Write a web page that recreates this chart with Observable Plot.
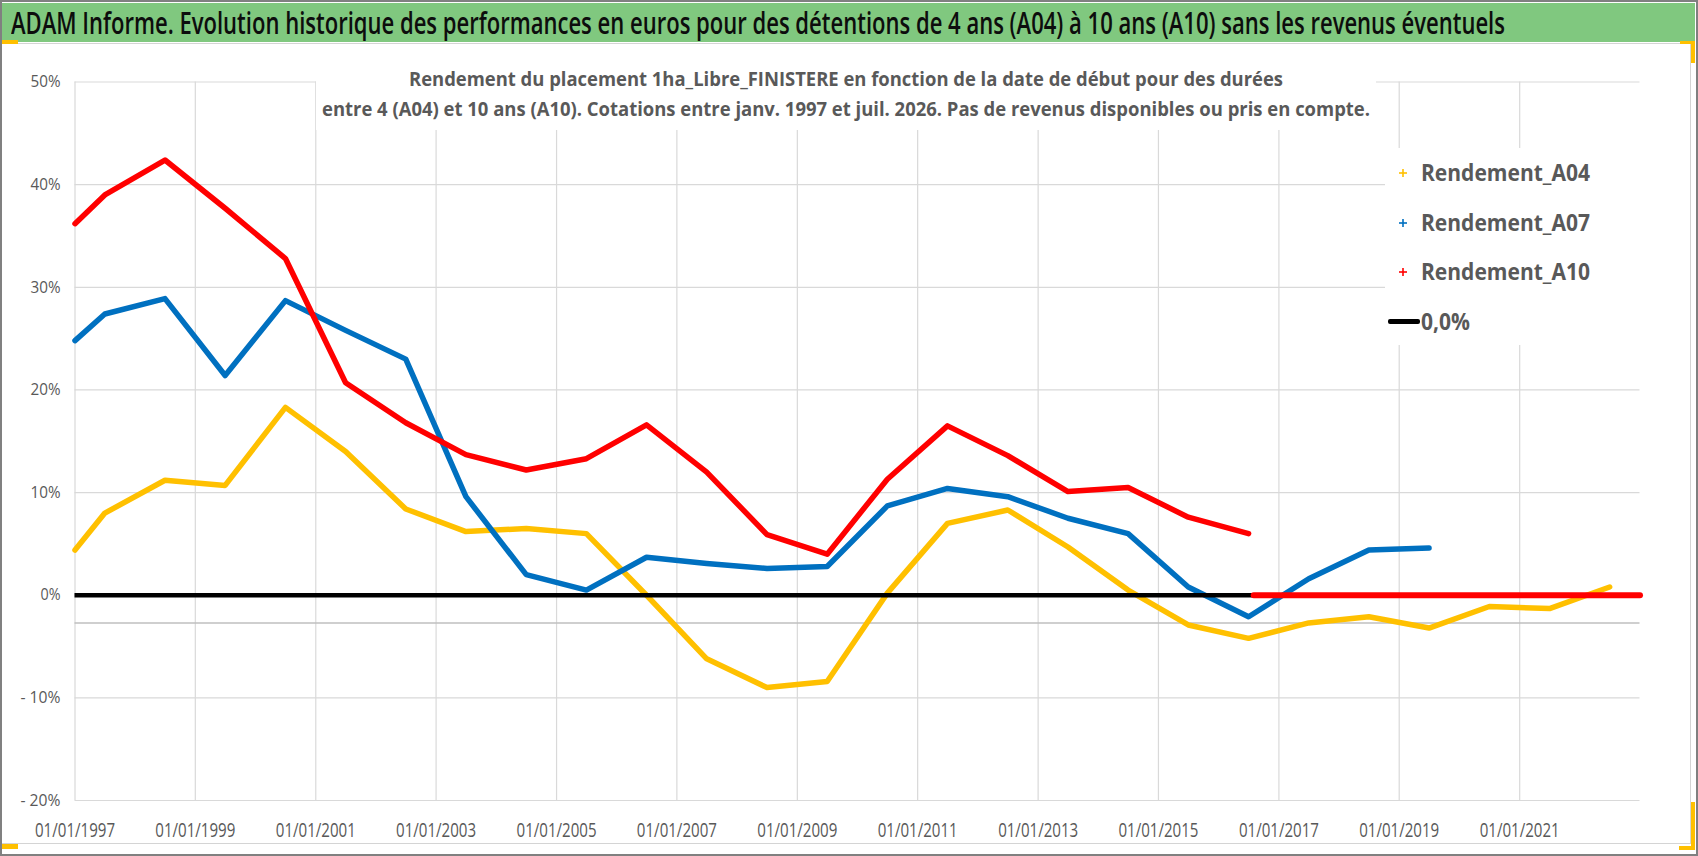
<!DOCTYPE html>
<html>
<head>
<meta charset="utf-8">
<script src="https://cdn.jsdelivr.net/npm/d3@7"></script>
<script src="https://cdn.jsdelivr.net/npm/@observablehq/plot@0.6"></script>
<style>
  html, body { margin: 0; padding: 0; background: #fff; }
  #wrap { position: relative; width: 1698px; height: 856px; overflow: hidden; background: #fff; font-family: "Open Sans", sans-serif; }
  #wrap > svg { position: absolute; left: 0; top: 0; }
  .abs { position: absolute; }
  .fit { display: inline-block; white-space: nowrap; transform-origin: 0 0; }
  #wrap svg [aria-label^="x-axis"] text { font-size: 20px !important; }
  #wrap svg [aria-label^="y-axis"] text { font-size: 16.5px !important; }
</style>
</head>
<body>
<div id="wrap"></div>
<script>
// ---------- data ----------
const dates = ["1997-01-01","1997-07-01","1998-07-01","1999-07-01","2000-07-01","2001-07-01","2002-07-01",
  "2003-07-01","2004-07-01","2005-07-01","2006-07-01","2007-07-01","2008-07-01","2009-07-01","2010-07-01",
  "2011-07-01","2012-07-01","2013-07-01","2014-07-01","2015-07-01","2016-07-01","2017-07-01","2018-07-01",
  "2019-07-01","2020-07-01","2021-07-01","2022-07-01"];
const rendementA04 = [4.4, 8.0, 11.2, 10.7, 18.3, 14.0, 8.4, 6.2, 6.5, 6.0, 0.0, -6.2, -9.0, -8.4, 0.2,
  7.0, 8.3, 4.7, 0.5, -2.9, -4.2, -2.7, -2.1, -3.2, -1.1, -1.3, 0.8];
const rendementA07 = [24.8, 27.4, 28.9, 21.4, 28.7, 25.8, 23.0, 9.6, 2.0, 0.5, 3.7, 3.1, 2.6, 2.8, 8.7,
  10.4, 9.6, 7.5, 6.0, 0.8, -2.1, 1.6, 4.4, 4.6, null, null, null];
const rendementA10 = [36.2, 39.0, 42.4, 37.7, 32.8, 20.7, 16.8, 13.7, 12.2, 13.3, 16.6, 12.0, 5.9, 4.0, 11.3,
  16.5, 13.6, 10.1, 10.5, 7.6, 6.0, null, null, null, null, null, null];
// A10 has no computable value after mid-2016: plotted as 0
const a10NoDataDates = ["2016-08-01", "2023-01-01"];
const a10NoDataValues = [0, 0];
const zeroLevel = 0;
const axisCrossLevel = -2.7;
const xDomain = ["1997-01-01", "2023-01-01"];
const xTicks = ["1997-01-01","1999-01-01","2001-01-01","2003-01-01","2005-01-01","2007-01-01",
  "2009-01-01","2011-01-01","2013-01-01","2015-01-01","2017-01-01","2019-01-01","2021-01-01"];
const yTicks = [-20, -10, 0, 10, 20, 30, 40, 50];
const seriesNames = ["Rendement_A04", "Rendement_A07", "Rendement_A10"];
const seriesColors = ["#FFC000", "#0070C0", "#FF0000"];
const zeroLabel = "0,0%";
const titleText = "ADAM Informe. Evolution historique des performances en euros pour des détentions de 4 ans (A04) à 10 ans (A10) sans les revenus éventuels";
const subtitleLines = [
  "Rendement du placement 1ha_Libre_FINISTERE en fonction de la date de début pour des durées",
  "entre 4 (A04) et 10 ans (A10). Cotations entre janv. 1997 et juil. 2026. Pas de revenus disponibles ou pris en compte."
];

// ---------- helpers ----------
const toDate = s => new Date(s + "T00:00:00Z");
const rows = (ds, vals) => ds.map((d, i) => ({date: toDate(d), value: vals[i]})).filter(r => r.value != null);
const yFmt = v => v < 0 ? "- " + Math.abs(v) + "%" : v + "%";

// ---------- plot ----------
const svg = Plot.plot({
  width: 1698,
  height: 856,
  marginLeft: 74.5,
  marginRight: 58.5,
  marginTop: 81.5,
  marginBottom: 56,
  style: {background: "transparent", color: "#595959", fontFamily: "Open Sans, sans-serif", fontSize: "16px"},
  x: {type: "utc", domain: xDomain.map(toDate), ticks: xTicks.map(toDate), tickFormat: d3.utcFormat("%d/%m/%Y"),
      tickSize: 0, tickPadding: 22, label: null},
  y: {domain: [-20, 50], ticks: yTicks, tickFormat: yFmt, tickSize: 0, tickPadding: 14.5, label: null},
  marks: [
    Plot.ruleY(yTicks, {stroke: "#d9d9d9", strokeWidth: 1.2}),
    Plot.ruleX(xTicks.map(toDate), {stroke: "#d9d9d9", strokeWidth: 1.2}),
    Plot.ruleY([axisCrossLevel], {stroke: "#bfbfbf", strokeWidth: 1.6}),
    Plot.line(rows(dates, rendementA04), {x: "date", y: "value", stroke: seriesColors[0], strokeWidth: 5.5}),
    Plot.line(rows(dates, rendementA07), {x: "date", y: "value", stroke: seriesColors[1], strokeWidth: 5.5}),
    Plot.ruleY([zeroLevel], {stroke: "#000", strokeWidth: 4.5}),
    Plot.line(rows(dates, rendementA10), {x: "date", y: "value", stroke: seriesColors[2], strokeWidth: 5.5}),
    Plot.line(rows(a10NoDataDates, a10NoDataValues), {x: "date", y: "value", stroke: seriesColors[2], strokeWidth: 6})
  ]
});
const wrap = document.getElementById("wrap");
wrap.appendChild(svg);

// condensed look for axis labels
svg.querySelectorAll('[aria-label^="x-axis"] text').forEach(t => {
  t.setAttribute("textLength", 80);
  t.setAttribute("lengthAdjust", "spacingAndGlyphs");
});
svg.querySelectorAll('[aria-label^="y-axis"] text').forEach(t => {
  const s = t.textContent;
  const w = s.startsWith("-") ? 40 : (s.length <= 2 ? 20 : 30);
  t.setAttribute("textLength", w);
  t.setAttribute("lengthAdjust", "spacingAndGlyphs");
});

// ---------- overlay elements ----------
function div(css, html) {
  const d = document.createElement("div");
  d.className = "abs";
  d.style.cssText += css;
  if (html != null) d.innerHTML = html;
  wrap.appendChild(d);
  return d;
}
// white boxes (subtitle, legend) hiding gridlines
div("left:316px;top:76px;width:1060px;height:54px;background:#fff;");
div("left:1385px;top:148px;width:256px;height:197px;background:#fff;");

// frames & title bar
div("left:0;top:43px;width:1691px;height:801px;box-sizing:border-box;border:1px solid #d4d4d4;");
div("left:2px;top:3px;width:1693px;height:39px;background:#80c87f;");
div("left:0;top:0;width:1698px;height:856px;box-sizing:border-box;border:2px solid #808080;");
// yellow selection corners
div("left:2px;top:40px;width:16px;height:4px;background:#FFC000;");
div("left:1680px;top:41px;width:15px;height:3px;background:#FFC000;");
div("left:1691px;top:41px;width:4px;height:22px;background:#FFC000;");
div("left:1691px;top:802px;width:4px;height:48px;background:#FFC000;");
div("left:1679px;top:846px;width:16px;height:4px;background:#FFC000;");
div("left:2px;top:844px;width:16px;height:5px;background:#FFC000;");

const fitters = [];
function textLine(text, left, baseline, fs, weight, color, width) {
  const d = div(`left:${left}px;top:${baseline - 0.888 * fs}px;font-size:${fs}px;line-height:${fs}px;font-weight:${weight};color:${color};`);
  const s = document.createElement("span");
  s.className = "fit";
  s.textContent = text;
  d.appendChild(s);
  if (width) fitters.push({el: s, width});
  return s;
}
// title
textLine(titleText, 11, 35, 30, 600, "#0d0d0d", 1494);
// subtitle
textLine(subtitleLines[0], 409, 87, 20, 700, "#595959", 874);
textLine(subtitleLines[1], 322, 117, 20, 700, "#595959", 1048);

// legend
const legBase = [181.7, 231.1, 280.5, 329.9];
const legSpans = [];
seriesNames.forEach((name, i) => {
  const cy = legBase[i] - 8.3;
  div(`left:${1399}px;top:${cy - 4}px;width:8px;height:8px;`,
    `<svg width="8" height="8" style="display:block"><line x1="4" y1="0" x2="4" y2="8" stroke="${seriesColors[i]}" stroke-width="1.6"/><line x1="0" y1="4" x2="8" y2="4" stroke="${seriesColors[i]}" stroke-width="1.6"/></svg>`);
  legSpans.push(textLine(name, 1421, legBase[i], 24, 700, "#595959", null));
});
div(`left:1388px;top:${legBase[3] - 8.3 - 2.4}px;width:32px;height:4.8px;background:#000;border-radius:2px;`);
legSpans.push(textLine(zeroLabel, 1421, legBase[3], 24, 700, "#595959", null));

function fitAll() {
  fitters.forEach(f => {
    f.el.style.transform = "none";
    const w = f.el.getBoundingClientRect().width;
    if (w > 0) f.el.style.transform = `scaleX(${f.width / w})`;
  });
  legSpans.forEach(s => s.style.transform = "none");
  const w0 = legSpans[0].getBoundingClientRect().width;
  if (w0 > 0) legSpans.forEach(s => s.style.transform = `scaleX(${169 / w0})`);
}
fitAll();
if (document.fonts && document.fonts.ready) document.fonts.ready.then(fitAll);
</script>
</body>
</html>
